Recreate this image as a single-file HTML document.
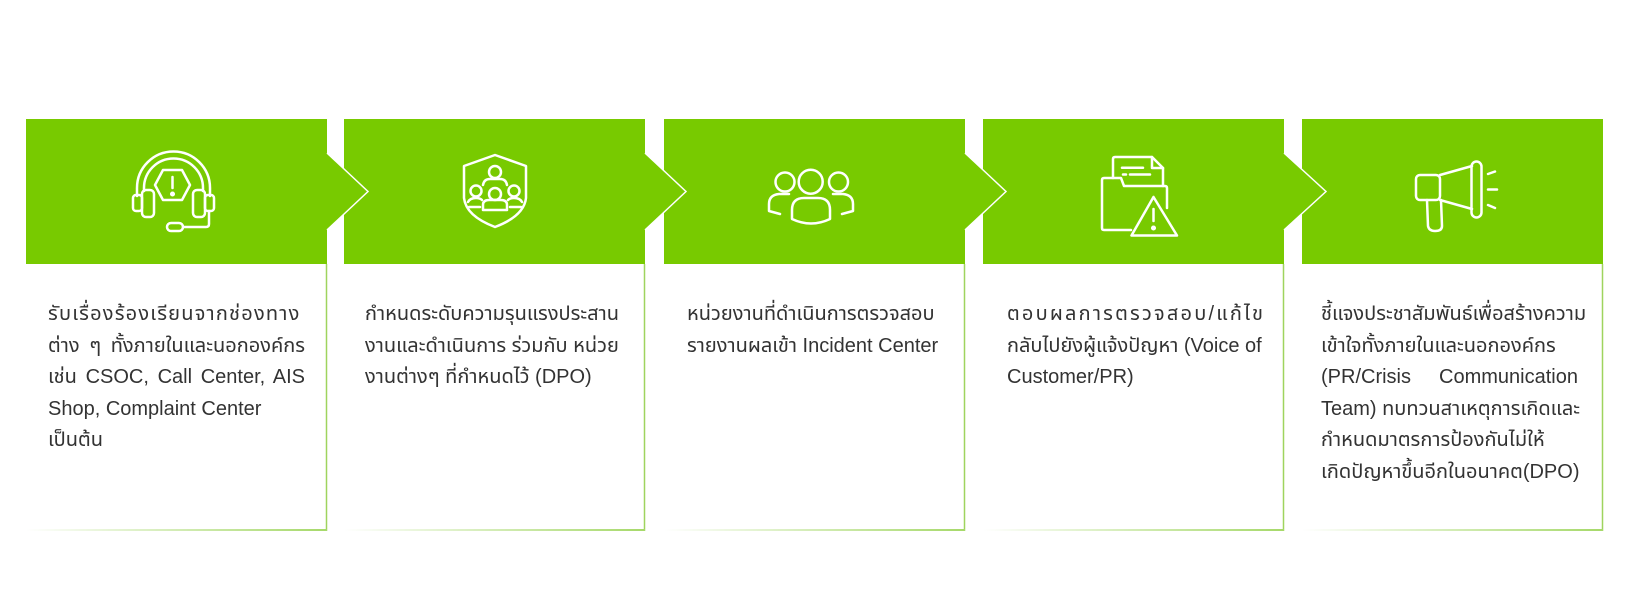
<!DOCTYPE html>
<html><head><meta charset="utf-8">
<style>
html,body{margin:0;padding:0;background:#fff;}
body{width:1631px;height:610px;position:relative;overflow:hidden;}
svg{position:absolute;left:0;top:0;}
.t{position:absolute;top:299px;width:257px;font-family:"Liberation Sans","Noto Sans Thai","Noto Sans","Loma","Garuda","Tlwg Typo",sans-serif;font-size:20px;color:#333;}
.t div{height:31.5px;line-height:31.5px;white-space:nowrap;}
.t .j{text-align:justify;text-align-last:justify;}
</style></head><body>
<svg width="1631" height="610" viewBox="0 0 1631 610" xmlns="http://www.w3.org/2000/svg">
<defs>
<linearGradient id="bg" x1="0" y1="0" x2="1" y2="0">
<stop offset="0" stop-color="#a6d96a" stop-opacity="0"/>
<stop offset="0.5" stop-color="#a6d96a" stop-opacity="0.5"/>
<stop offset="1" stop-color="#a6d96a" stop-opacity="1"/>
</linearGradient>
</defs>
<g fill="#78ca00">
<rect x="26" y="119" width="301" height="145"/>
<rect x="344" y="119" width="301" height="145"/>
<rect x="664" y="119" width="301" height="145"/>
<rect x="983" y="119" width="301" height="145"/>
<rect x="1302" y="119" width="301" height="145"/>
</g>
<g stroke="#9fd45e" stroke-width="1.5">
<line x1="326.5" y1="264" x2="326.5" y2="531"/>
<line x1="644.5" y1="264" x2="644.5" y2="531"/>
<line x1="964.5" y1="264" x2="964.5" y2="531"/>
<line x1="1283.5" y1="264" x2="1283.5" y2="531"/>
<line x1="1602.5" y1="264" x2="1602.5" y2="531"/>
</g>
<g fill="url(#bg)">
<rect x="26" y="529" width="301" height="2"/>
<rect x="344" y="529" width="301" height="2"/>
<rect x="664" y="529" width="301" height="2"/>
<rect x="983" y="529" width="301" height="2"/>
<rect x="1302" y="529" width="301" height="2"/>
</g>
<!-- arrows -->
<g>
<polygon points="326,153 368,191.5 326,230" fill="#78ca00"/>
<polyline points="327,153 368,191.5 327,230" fill="none" stroke="#fff" stroke-width="1.5"/>
<polygon points="644,153 686,191.5 644,230" fill="#78ca00"/>
<polyline points="645,153 686,191.5 645,230" fill="none" stroke="#fff" stroke-width="1.5"/>
<polygon points="964,153 1006,191.5 964,230" fill="#78ca00"/>
<polyline points="965,153 1006,191.5 965,230" fill="none" stroke="#fff" stroke-width="1.5"/>
<polygon points="1283,153 1326,191.5 1283,230" fill="#78ca00"/>
<polyline points="1284,153 1326,191.5 1284,230" fill="none" stroke="#fff" stroke-width="1.5"/>
</g>
<g fill="none" stroke="#fff" stroke-width="2.5" stroke-linecap="round" stroke-linejoin="round">
<!-- headset -->
<g transform="translate(132,150)">
<path d="M5,46 V38 A36.5,36.5 0 0 1 78,38 V46"/>
<path d="M12,41 V38 A29.5,29.5 0 0 1 71,38 V41"/>
<rect x="1" y="45" width="9" height="16" rx="3"/>
<rect x="10" y="40" width="12" height="27" rx="4"/>
<rect x="61" y="40" width="12" height="27" rx="4"/>
<rect x="73" y="45" width="9" height="16" rx="3"/>
<path d="M77,61 V74 Q77,77 74,77 H51"/>
<rect x="35" y="73" width="16" height="8" rx="4"/>
<polygon points="23,35 31,20 50,20 58,35 50,50 31,50"/>
<line x1="40.5" y1="27" x2="40.5" y2="38"/>
<circle cx="40.5" cy="44" r="1.3" fill="#fff"/>
</g>
<!-- shield -->
<g transform="translate(463,154)">
<path d="M32,1 L63,12 V44 Q61,62 32,73 Q3,62 1,44 V12 Z"/>
<circle cx="32" cy="18" r="6"/>
<path d="M20,31 Q21,25 27,25 H37 Q43,25 44,31"/>
<circle cx="13" cy="37" r="5.5"/>
<circle cx="51" cy="37" r="5.5"/>
<circle cx="32" cy="40" r="6"/>
<path d="M20,56 V51 Q20,46 26,46 H38 Q44,46 44,51 V56 Z"/>
<path d="M5,48 Q7,44 13,44 Q17,44 19,46"/>
<path d="M59,48 Q57,44 51,44 Q47,44 45,46"/>
<path d="M6,53 H17 M47,53 H58"/>
</g>
<!-- people -->
<g>
<circle cx="810.7" cy="181.7" r="12"/>
<circle cx="785" cy="182" r="9.5"/>
<circle cx="838.5" cy="182" r="9.5"/>
<path d="M792,219 V210 Q792,198 804,198 H818 Q830,198 830,210 V219 Q811,228 792,219 Z"/>
<path d="M780,214 L769,211 V204 Q769,195 779,194 H789"/>
<path d="M842,214 L853,211 V204 Q853,195 843,194 H833"/>
</g>
<!-- folder warning -->
<g>
<path d="M1113,178 V159 Q1113,157 1115,157 H1152 L1163,168 V186"/>
<path d="M1152,157 V168 H1163"/>
<path d="M1122,167.7 H1143 M1123,174.5 H1126 M1130,174.5 H1150"/>
<path d="M1131,230 H1104 Q1102,230 1102,228 V180 Q1102,178 1104,178 H1121 L1124,186 H1165 Q1167,186 1167,188 V208"/>
<polygon points="1153.5,197 1131.5,235.5 1177,235.5"/>
<path d="M1153.5,209 V221"/>
<circle cx="1153.5" cy="228" r="1.3" fill="#fff"/>
</g>
<!-- megaphone -->
<g>
<rect x="1416" y="175" width="24" height="25" rx="4"/>
<path d="M1440,175 L1472,166 M1440,200 L1472,209"/>
<rect x="1471.5" y="161.5" width="10" height="56" rx="5"/>
<path d="M1427,200 L1428,226 Q1429,231 1435,231 Q1442,231 1442,226 L1441,200"/>
<path d="M1488,174 L1495,171.5 M1488,189.5 H1497 M1488,205 L1495,208"/>
</g>
</g>
</svg>

<div class="t" style="left:48px;">
<div style="letter-spacing:1.2px;">รับเรื่องร้องเรียนจากช่องทาง</div>
<div class="j">ต่าง ๆ ทั้งภายในและนอกองค์กร</div>
<div class="j">เช่น CSOC, Call Center, AIS</div>
<div>Shop, Complaint Center</div>
<div>เป็นต้น</div>
</div>

<div class="t" style="left:365px;">
<div>กำหนดระดับความรุนแรงประสาน</div>
<div>งานและดำเนินการ ร่วมกับ หน่วย</div>
<div>งานต่างๆ ที่กำหนดไว้ (DPO)</div>
</div>

<div class="t" style="left:687px;">
<div>หน่วยงานที่ดำเนินการตรวจสอบ</div>
<div>รายงานผลเข้า Incident Center</div>
</div>

<div class="t" style="left:1007px;">
<div style="letter-spacing:2.2px;">ตอบผลการตรวจสอบ/แก้ไข</div>
<div>กลับไปยังผู้แจ้งปัญหา (Voice of</div>
<div>Customer/PR)</div>
</div>

<div class="t" style="left:1321px;">
<div>ชี้แจงประชาสัมพันธ์เพื่อสร้างความ</div>
<div>เข้าใจทั้งภายในและนอกองค์กร</div>
<div class="j">(PR/Crisis Communication</div>
<div class="j">Team) ทบทวนสาเหตุการเกิดและ</div>
<div>กำหนดมาตรการป้องกันไม่ให้</div>
<div>เกิดปัญหาขึ้นอีกในอนาคต(DPO)</div>
</div>
</body></html>
